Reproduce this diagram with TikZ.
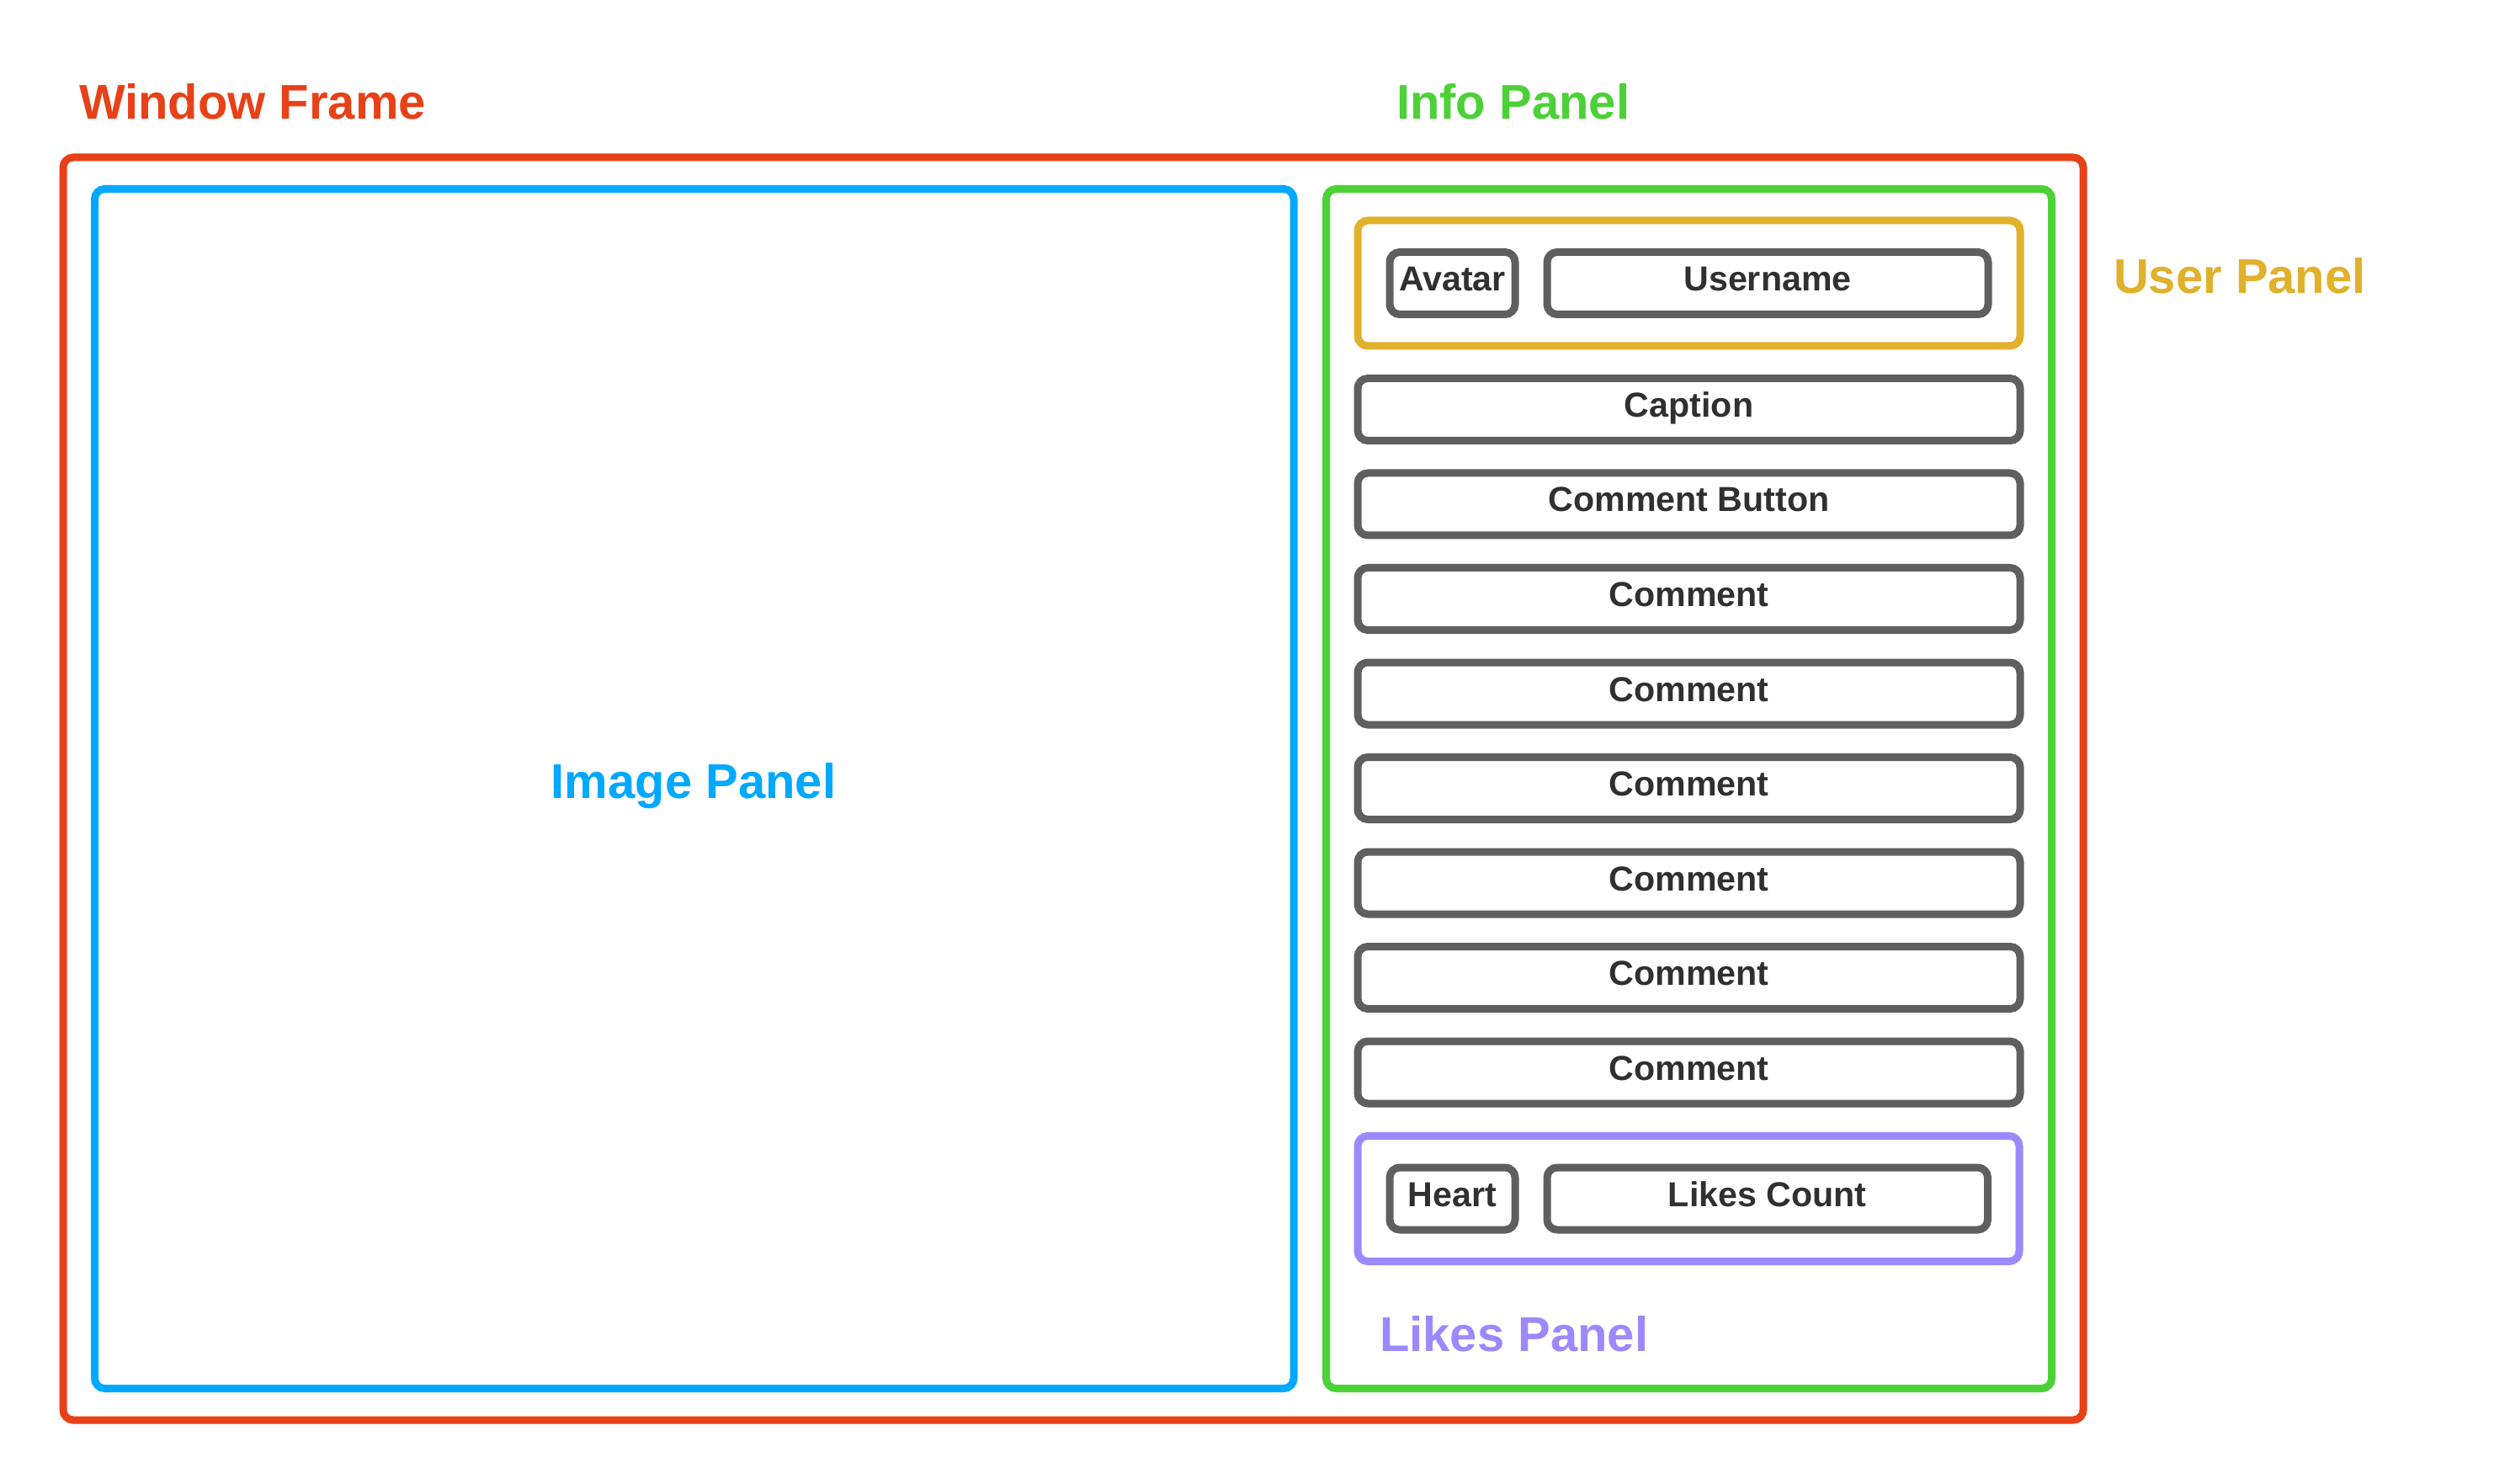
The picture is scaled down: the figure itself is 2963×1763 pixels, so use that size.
\documentclass[tikz,border=0pt]{standalone}
\usepackage{fontspec}
\setmainfont{Liberation Sans}
\definecolor{frameRed}{HTML}{E84118}
\definecolor{imageBlue}{HTML}{00A8FF}
\definecolor{infoGreen}{HTML}{4CD137}
\definecolor{userGold}{HTML}{E1B12C}
\definecolor{likesViolet}{HTML}{9C88FF}
\definecolor{boxGrey}{HTML}{5F5F5F}
\definecolor{boxText}{HTML}{303030}
\tikzset{
  panel/.style n args={3}{draw=#1, line width=2.25pt, rounded corners=3pt,
    rectangle, inner sep=0pt, outer sep=0pt,
    minimum width=#2*0.25pt, minimum height=#3*0.25pt},
  widget/.style 2 args={draw=boxGrey, line width=2.25pt, rounded corners=3pt,
    rectangle, inner sep=0pt, outer sep=0pt, text=boxText,
    font=\fontsize{10.3pt}{12pt}\selectfont\bfseries,
    text height=4.5pt, text depth=0pt,
    minimum width=#1*0.25pt, minimum height=#2*0.25pt},
  title/.style={font=\fontsize{14.5pt}{17pt}\selectfont\bfseries,
    inner sep=0pt, outer sep=0pt},
}
\begin{document}
\begin{tikzpicture}[x=0.25pt, y=-0.25pt]
  \useasboundingbox (0,0) rectangle (2963,1763);

  % outer window and the two main panels
  \node[panel={frameRed}{2400}{1500}]   (window) at (1275,937) {};
  \node[panel={imageBlue}{1424.5}{1425}] (image) at (824.75,937) {};
  \node[panel={infoGreen}{862}{1425}]   (info)   at (2006.5,937) {};

  % user panel
  \node[panel={userGold}{787}{149}] (user) at (2006.5,336.5) {};
  \node[widget={149}{74}] (avatar)   at (1725.5,336.5) {Avatar};
  \node[widget={524}{74}] (username) at (2100,336.5) {Username};

  % caption, comment button and comments
  \node[widget={787}{74}] (caption)  at (2006.5,486.5) {Caption};
  \node[widget={787}{74}] (cbutton)  at (2006.5,599)   {Comment Button};
  \node[widget={787}{74}] (comment1) at (2006.5,711.5) {Comment};
  \node[widget={787}{74}] (comment2) at (2006.5,824)   {Comment};
  \node[widget={787}{74}] (comment3) at (2006.5,936.5) {Comment};
  \node[widget={787}{74}] (comment4) at (2006.5,1049)  {Comment};
  \node[widget={787}{74}] (comment5) at (2006.5,1161.5){Comment};
  \node[widget={787}{74}] (comment6) at (2006.5,1274)  {Comment};

  % likes panel
  \node[panel={likesViolet}{786}{149}] (likes) at (2006,1424) {};
  \node[widget={149}{74}] (heart)  at (1725.5,1424) {Heart};
  \node[widget={523.5}{74}] (lcount) at (2099.75,1424) {Likes Count};

  % panel titles
  \node[title, text=frameRed, anchor=base west]    (tWindow) at (94,142)    {Window Frame};
  \node[title, text=infoGreen, anchor=base west]   (tInfo)   at (1659,142)  {Info Panel};
  \node[title, text=userGold, anchor=base west]    (tUser)   at (2511,349)  {User Panel};
  \node[title, text=likesViolet, anchor=base west] (tLikes)  at (1639,1605) {Likes Panel};
  \node[title, text=imageBlue, anchor=base]        (tImage)  at (824,948)   {Image Panel};
\end{tikzpicture}
\end{document}
